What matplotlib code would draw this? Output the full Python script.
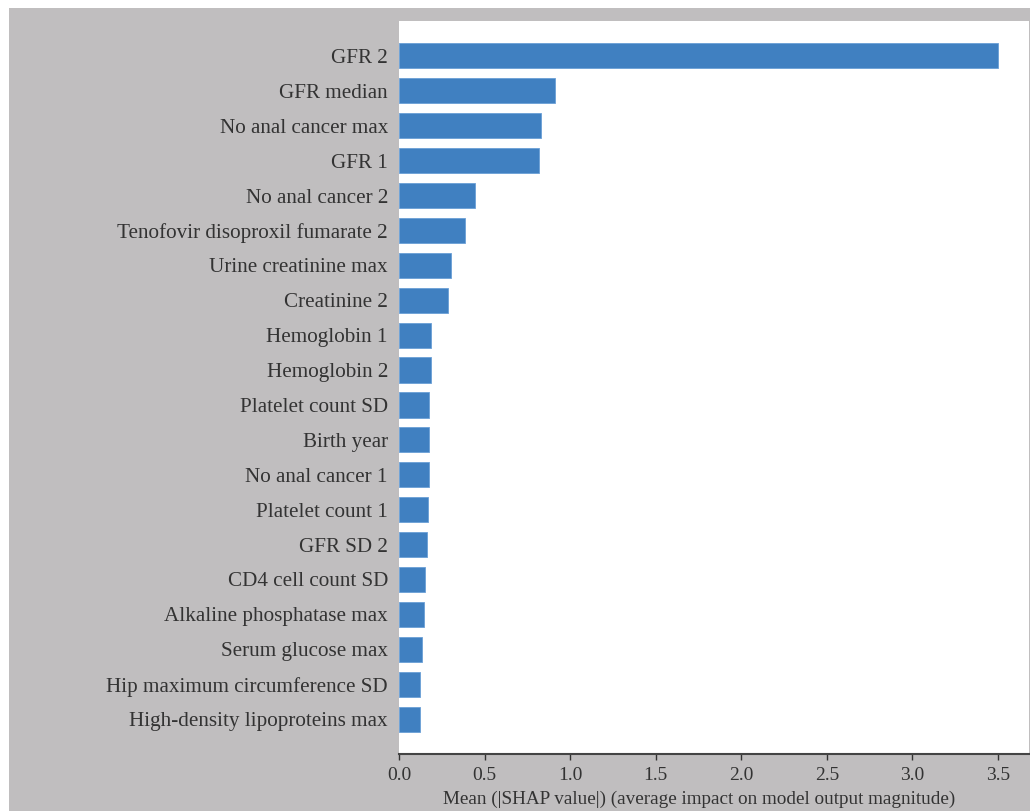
import matplotlib.pyplot as plt
from matplotlib.patches import Rectangle

# mean |SHAP| per feature, top to bottom
features = [
    "GFR 2",
    "GFR median",
    "No anal cancer max",
    "GFR 1",
    "No anal cancer 2",
    "Tenofovir disoproxil fumarate 2",
    "Urine creatinine max",
    "Creatinine 2",
    "Hemoglobin 1",
    "Hemoglobin 2",
    "Platelet count SD",
    "Birth year",
    "No anal cancer 1",
    "Platelet count 1",
    "GFR SD 2",
    "CD4 cell count SD",
    "Alkaline phosphatase max",
    "Serum glucose max",
    "Hip maximum circumference SD",
    "High-density lipoproteins max",
]
mean_shap = [3.502, 0.914, 0.832, 0.817, 0.442, 0.384, 0.302, 0.286,
             0.185, 0.185, 0.177, 0.177, 0.177, 0.170, 0.162, 0.154,
             0.144, 0.136, 0.121, 0.121]
xticks = [0.0, 0.5, 1.0, 1.5, 2.0, 2.5, 3.0, 3.5]

W, H = 1030, 811
text_color = "#333333"
bar_color = "#4080c1"
grey = "#c0bebf"

plt.rcParams['font.family'] = ['Liberation Serif', 'DejaVu Serif']

fig = plt.figure(figsize=(W / 100, H / 100), dpi=100)
fig.patch.set_facecolor("white")
fig.add_artist(Rectangle((9 / W, 0), 1, 1 - 8 / H, transform=fig.transFigure,
                         facecolor=grey, edgecolor="none", zorder=-10))

left, right, top, bottom = 399, 1029, 21, 754
ax = fig.add_axes([left / W, 1 - bottom / H, (right - left) / W, (bottom - top) / H])
ax.set_facecolor("white")

n = len(features)
ypos = list(range(n - 1, -1, -1))
ax.barh(ypos, mean_shap, height=0.72, color=bar_color, edgecolor="#6a9fd6", linewidth=0.6)

ax.set_ylim(-1, n)
ax.set_xlim(0, (right - left) / ((998 - 399) / 3.5))
ax.set_yticks(ypos)
ax.set_yticklabels(features, fontsize=15.2, color=text_color)
ax.tick_params(axis="y", length=0, pad=8)

ax.set_xticks(xticks)
ax.set_xticklabels([f"{t:.1f}" for t in xticks], fontsize=14, color=text_color)
ax.tick_params(axis="x", length=4, width=1, color=text_color, pad=5.5)

for s in ["top", "right", "left"]:
    ax.spines[s].set_visible(False)
ax.spines["bottom"].set_color("#444444")
ax.spines["bottom"].set_linewidth(1.5)

ax.set_xlabel("Mean (|SHAP value|) (average impact on model output magnitude)",
              fontsize=13.8, color=text_color)
ax.xaxis.set_label_coords((699 - left) / (right - left), -(799 - bottom) / (bottom - top))
ax.xaxis.label.set_verticalalignment("center")

fig.savefig("out.png", dpi=100, facecolor=fig.get_facecolor())
